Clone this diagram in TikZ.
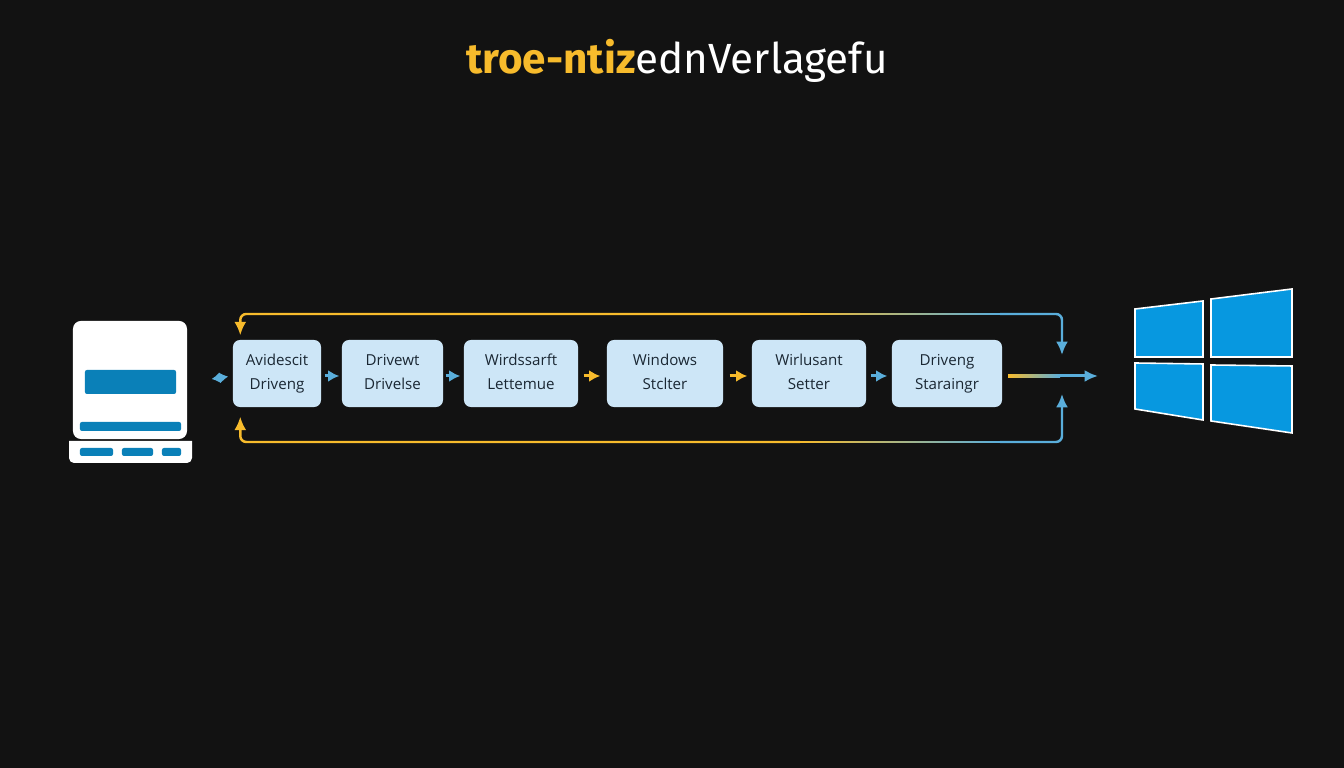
\documentclass[tikz,border=0pt]{standalone}
\usepackage{xcolor}
\usepackage{fontspec}
\usepackage{tikz}
\usetikzlibrary{calc}
\usetikzlibrary{arrows.meta}
\usetikzlibrary{positioning}
\setmainfont{Fira Sans}
\newfontfamily\boxfont{Open Sans}
\definecolor{bgdark}{HTML}{121212}
\definecolor{boxblue}{HTML}{CDE6F7}
\definecolor{boxtext}{HTML}{1A2733}
\definecolor{flowblue}{HTML}{5AAEDB}
\definecolor{flowyellow}{HTML}{F7BB2C}
\definecolor{iconblue}{HTML}{0A80B8}
\definecolor{paneblue}{HTML}{0798E0}
\tikzstyle{box} = [rectangle, rounded corners=.07cm, fill=boxblue, text=boxtext, align=center, inner sep=0, minimum height=.67cm, font=\boxfont\fontsize{4.3}{6.8}\selectfont, execute at end node={\rule[-1.05pt]{0pt}{1pt}}]
\tikzstyle{bar} = [rectangle, fill=iconblue, inner sep=0, rounded corners=.02cm]
\tikzstyle{pane} = [draw=white, fill=paneblue, line width=.45pt, line join=miter]
\tikzstyle{hop} = [line width=.85pt, -{Latex[length=3.2pt, width=3.4pt]}]
\tikzstyle{loopline} = [line width=.7pt, rounded corners=.06cm]
\tikzstyle{bigtip} = [-{Latex[length=3.8pt, width=3.4pt]}]
\newcommand{\fadeline}[3]{%
  \shade [left color=flowyellow, right color=flowblue] ([yshift=#3]#1) rectangle ([yshift=-#3]#2);
}

\begin{document}
\begin{tikzpicture}[x=.01cm, y=-.01cm]
\fill [bgdark] (0,0) rectangle (1344,768);
\node [font=\fontsize{12}{14}\selectfont, text=white] (title) at (677,61) {\textcolor{flowyellow}{\bfseries troe-ntiz}ednVerlagefu};

% computer on the left
\node [rectangle, fill=white, rounded corners=.08cm, inner sep=0, minimum width=1.14cm, minimum height=1.18cm] (pc) at (130,380) {};
\node [bar, minimum width=.91cm, minimum height=.24cm] (pcscreen) at (130.5,382) {};
\node [bar, minimum width=1.01cm, minimum height=.09cm] (pcslot) at (130.5,426.5) {};
\fill [white, rounded corners=.05cm] (69,441) [sharp corners] -- (192,441) [rounded corners=.05cm] -- (192,463) -- (69,463) [sharp corners] -- cycle;
\node [bar, minimum width=.33cm, minimum height=.08cm] (pckeya) at (96.5,452) {};
\node [bar, minimum width=.31cm, minimum height=.08cm] (pckeyb) at (137.5,452) {};
\node [bar, minimum width=.19cm, minimum height=.08cm] (pckeyc) at (171.5,452) {};

% the row of boxes
\node [box, minimum width=.88cm] (avid) at (277,373.5) {Avidescit\\Driveng};
\node [box, minimum width=1.01cm] (drive) at (392.5,373.5) {Drivewt\\Drivelse};
\node [box, minimum width=1.14cm] (lett) at (521,373.5) {Wirdssarft\\Lettemue};
\node [box, minimum width=1.16cm] (wind) at (665,373.5) {Windows\\Stclter};
\node [box, minimum width=1.14cm] (sett) at (809,373.5) {Wirlusant\\Setter};
\node [box, minimum width=1.10cm] (star) at (947,373.5) {Driveng\\Staraingr};

% hops between the boxes
\draw [hop, <->, >={Latex[length=2.5pt, width=3.2pt]}, flowblue, shorten <=.24cm, shorten >=.04cm] ([yshift=-.025cm]pc.east) -- ([yshift=-.025cm]avid.west);
\draw [hop, flowblue, shorten <=.03cm, shorten >=.02cm] ([yshift=-.025cm]avid.east) -- ([yshift=-.025cm]drive.west);
\draw [hop, flowblue, shorten <=.02cm, shorten >=.03cm] ([yshift=-.025cm]drive.east) -- ([yshift=-.025cm]lett.west);
\draw [hop, flowyellow, shorten <=.05cm, shorten >=.06cm] ([yshift=-.025cm]lett.east) -- ([yshift=-.025cm]wind.west);
\draw [hop, flowyellow, shorten <=.06cm, shorten >=.04cm] ([yshift=-.025cm]wind.east) -- ([yshift=-.025cm]sett.west);
\draw [hop, flowblue, shorten <=.04cm, shorten >=.04cm] ([yshift=-.025cm]sett.east) -- ([yshift=-.025cm]star.west);

% way out to the windows logo
\coordinate (outA) at (1008,376);
\coordinate (outB) at (1060,376);
\coordinate (outC) at (1098,376);
\fadeline{outA}{outB}{.33pt}
\draw [line width=.85pt, bigtip, flowblue] (outB) -- (outC);

% long lines above and below
\coordinate (topA) at (800,314);
\coordinate (topB) at (1000,314);
\coordinate (topC) at (1062,355);
\coordinate (lowA) at (800,442);
\coordinate (lowB) at (1000,442);
\coordinate (lowC) at (1062,394);
\draw [loopline, bigtip, flowyellow, shorten >=.04cm] (topA) -| ([xshift=.08cm]avid.north west);
\draw [loopline, bigtip, flowyellow, shorten >=.09cm] (lowA) -| ([xshift=.08cm]avid.south west);
\fadeline{topA}{topB}{.22pt}
\fadeline{lowA}{lowB}{.22pt}
\draw [loopline, bigtip, flowblue] (topB) -| (topC);
\draw [loopline, bigtip, flowblue] (lowB) -| (lowC);

% windows logo
\draw [pane] (1135,309) -- (1203,301) -- (1203,357) -- (1135,357) -- cycle;
\draw [pane] (1211,299) -- (1292,289) -- (1292,357) -- (1211,357) -- cycle;
\draw [pane] (1135,363) -- (1203,364) -- (1203,420) -- (1135,409) -- cycle;
\draw [pane] (1211,365) -- (1292,366) -- (1292,433) -- (1211,421) -- cycle;
\end{tikzpicture}
\end{document}
